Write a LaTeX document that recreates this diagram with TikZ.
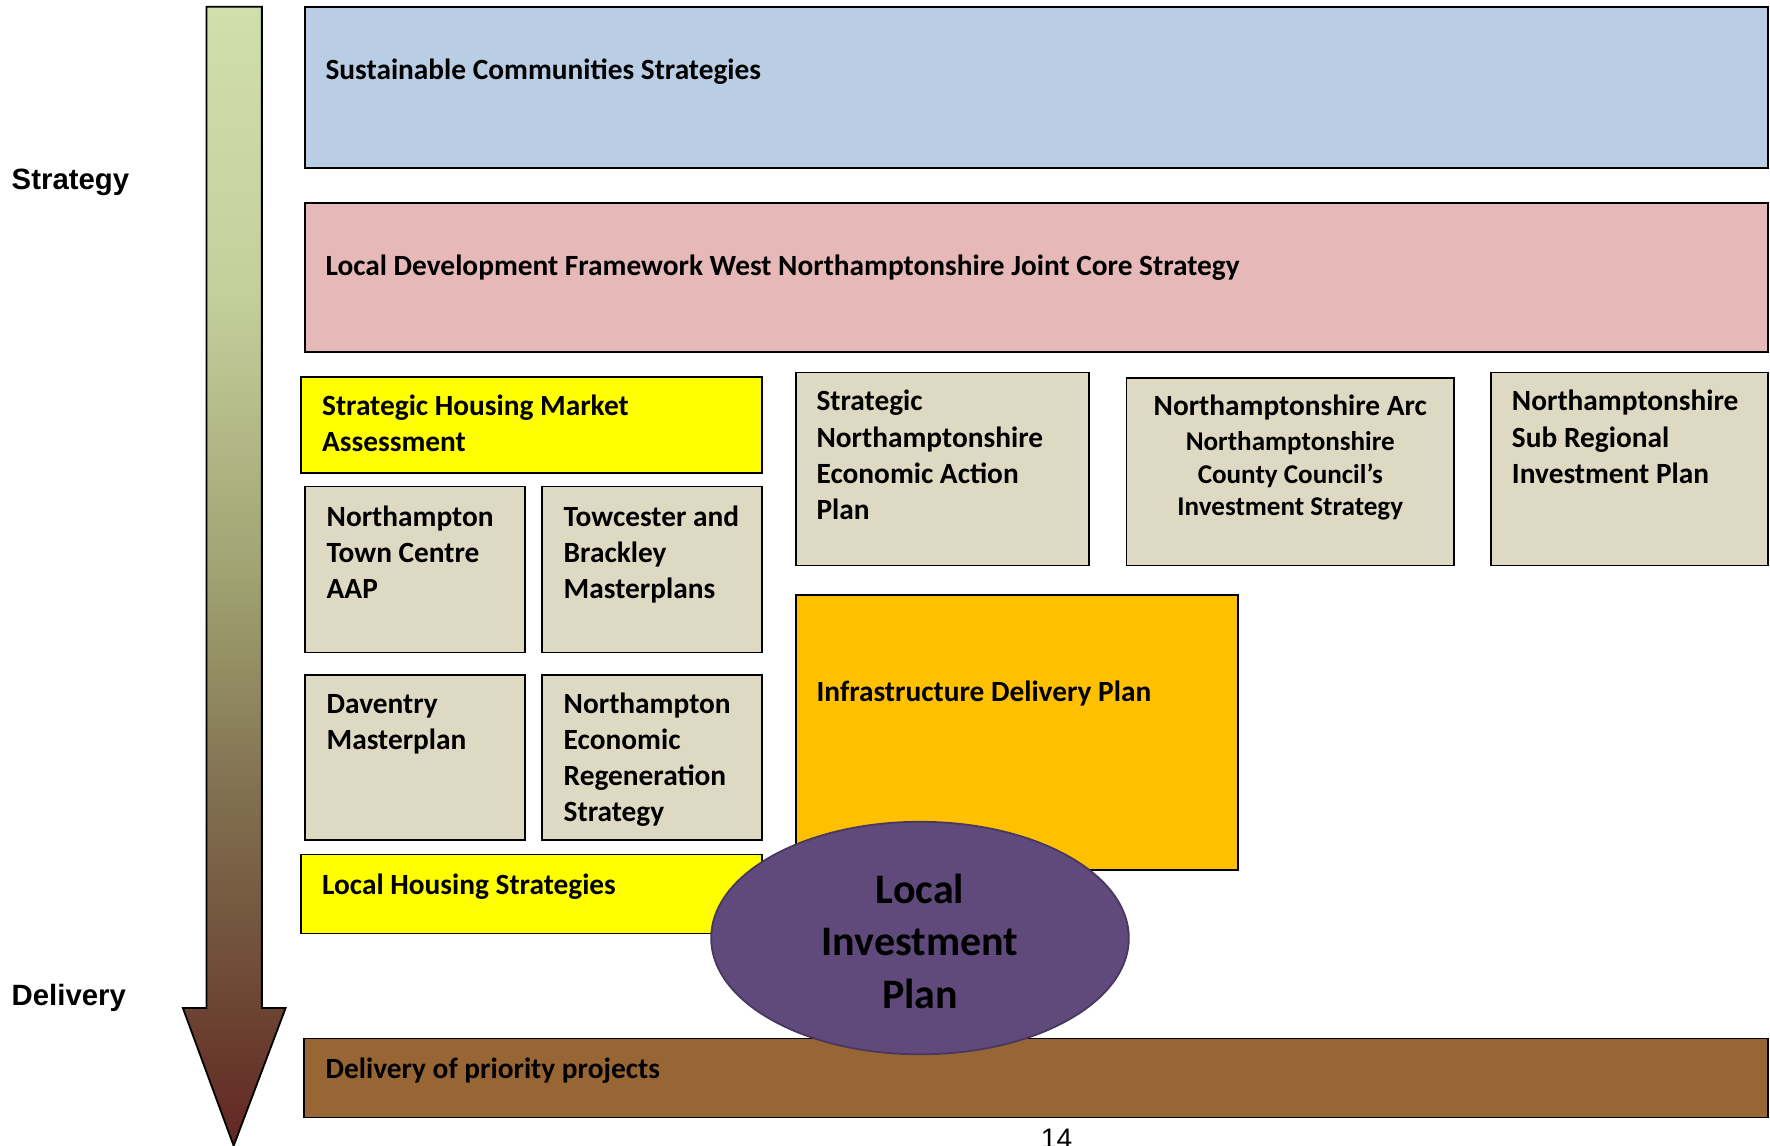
\documentclass[tikz,border=0pt]{standalone}
\usepackage{fontspec}
\setmainfont{Carlito}
\newfontfamily\arialfont{Liberation Sans}
\usetikzlibrary{shapes.geometric,fit}

\definecolor{scblue}{RGB}{185,205,229}
\definecolor{ldfpink}{RGB}{230,184,183}
\definecolor{hyellow}{RGB}{255,255,0}
\definecolor{beige}{RGB}{221,217,195}
\definecolor{idporange}{RGB}{255,192,0}
\definecolor{lippurple}{RGB}{96,74,123}
\definecolor{lipedge}{RGB}{72,56,96}
\definecolor{dpbrown}{RGB}{152,102,52}
\definecolor{arA}{RGB}{98,38,36}
\definecolor{arB}{RGB}{108,68,50}
\definecolor{arC}{RGB}{128,110,78}
\definecolor{arD}{RGB}{160,162,114}
\definecolor{arE}{RGB}{196,207,156}
\definecolor{arF}{RGB}{209,223,173}

\pgfdeclareverticalshading{arrowshade}{100bp}{color(0bp)=(arA); color(25bp)=(arA); color(31bp)=(arB); color(40bp)=(arC); color(50bp)=(arD); color(62.5bp)=(arE); color(75bp)=(arF); color(100bp)=(arF)}

\tikzset{
  box/.style={draw=black, line width=0.8pt, inner sep=0pt, rectangle},
  txt/.style={font=\fontsize{13}{16}\selectfont\bfseries, inner sep=0pt, align=left, anchor=base west},
  sidelabel/.style={font=\arialfont\fontsize{13}{16}\selectfont\bfseries, inner sep=0pt, anchor=base west},
}

\begin{document}
\begin{tikzpicture}[x=0.5pt,y=-0.5pt]
\useasboundingbox (0,0) rectangle (1568,1015);
\clip (0,0) rectangle (1568,1015);

% arrow
\shadedraw[shading=arrowshade, draw=black, line width=0.8pt, line join=miter]
  (183,6) -- (232,6) -- (232,893) -- (253,893) -- (207,1015) -- (162,893) -- (183,893) -- cycle;
\node[sidelabel] (strat) at (10,168) {Strategy};
\node[sidelabel] (deliv) at (10,891) {Delivery};

% boxes (text nodes are placed by the baseline of their last line)
\node[box, fill=scblue, fit={(270,6) (1566,149)}] (sc) {};
\node[txt] (sct) at (288,70) {Sustainable Communities Strategies};

\node[box, fill=ldfpink, fit={(270,180) (1566,312)}] (ldf) {};
\node[txt] (ldft) at (288,244) {Local Development Framework West Northamptonshire Joint Core Strategy};

\node[box, fill=hyellow, fit={(267,334) (675,419)}] (shma) {};
\node[txt] (shmat) at (285,400) {Strategic Housing Market\\Assessment};

\node[box, fill=beige, fit={(270,431) (465,578)}] (ntc) {};
\node[txt] (ntct) at (289,530) {Northampton\\Town Centre\\AAP};

\node[box, fill=beige, fit={(480,431) (675,578)}] (tb) {};
\node[txt] (tbt) at (499,530) {Towcester and\\Brackley\\Masterplans};

\node[box, fill=beige, fit={(270,598) (465,744)}] (dav) {};
\node[txt] (davt) at (289,664) {Daventry\\Masterplan};

\node[box, fill=beige, fit={(480,598) (675,744)}] (ners) {};
\node[txt] (nerst) at (499,728) {Northampton\\Economic\\Regeneration\\Strategy};

\node[box, fill=hyellow, fit={(267,757) (675,827)}] (lhs) {};
\node[txt] (lhst) at (285,792) {Local Housing Strategies};

\node[box, fill=beige, fit={(705,330) (965,501)}] (sneap) {};
\node[txt] (sneapt) at (723,460) {Strategic\\Northamptonshire\\Economic Action\\Plan};

\node[box, fill=beige, fit={(998,335) (1288,501)}] (arc) {};
\node[txt, anchor=base] (arct) at (1143,368) {Northamptonshire Arc};
\node[txt, anchor=base, align=center, font=\fontsize{12}{14.5}\selectfont\bfseries] (arcb) at (1143,457) {Northamptonshire\\County Council’s\\Investment Strategy};

\node[box, fill=beige, fit={(1321,330) (1566,501)}] (nsrip) {};
\node[txt] (nsript) at (1339,428) {Northamptonshire\\Sub Regional\\Investment Plan};

\node[box, fill=idporange, fit={(705,527) (1097,771)}] (idp) {};
\node[txt] (idpt) at (723,621) {Infrastructure Delivery Plan};

\node[box, fill=dpbrown, fit={(269,920) (1566,990)}] (dp) {};
\node[txt] (dpt) at (288,955) {Delivery of priority projects};

% ellipse
\node[ellipse, draw=lipedge, fill=lippurple, line width=0.8pt, minimum width=185pt, minimum height=103pt, inner sep=0pt] (lip) at (815,831) {};
\node[inner sep=0pt, anchor=base, align=center, font=\fontsize{18.6}{23.25}\selectfont\bfseries] (lipt) at (815,893) {Local\\Investment\\Plan};

\node[font=\arialfont\fontsize{12.5}{15}\selectfont, anchor=north, inner sep=0pt] (pg) at (936,1000) {14};
\end{tikzpicture}
\end{document}
